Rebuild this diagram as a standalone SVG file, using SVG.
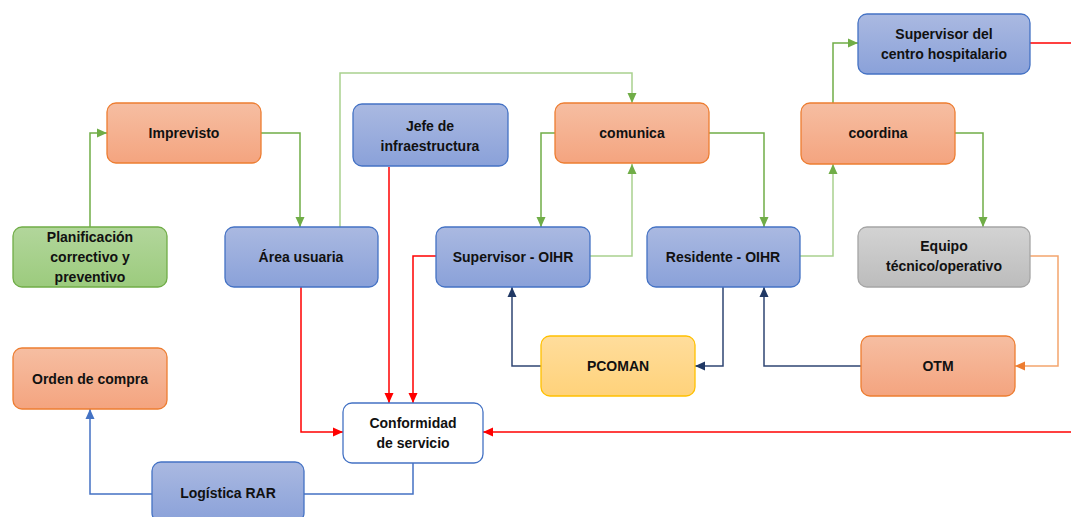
<svg xmlns="http://www.w3.org/2000/svg" width="1071" height="517" viewBox="0 0 1071 517">
<defs>
<linearGradient id="gO" x1="0" y1="0" x2="0" y2="1"><stop offset="0" stop-color="#F6BEA2"/><stop offset="1" stop-color="#F4A47F"/></linearGradient>
<linearGradient id="gB" x1="0" y1="0" x2="0" y2="1"><stop offset="0" stop-color="#AAB9E1"/><stop offset="1" stop-color="#8AA1D9"/></linearGradient>
<linearGradient id="gG" x1="0" y1="0" x2="0" y2="1"><stop offset="0" stop-color="#B2D69B"/><stop offset="1" stop-color="#9CCB7D"/></linearGradient>
<linearGradient id="gS" x1="0" y1="0" x2="0" y2="1"><stop offset="0" stop-color="#D3D3D3"/><stop offset="1" stop-color="#BCBCBC"/></linearGradient>
<linearGradient id="gY" x1="0" y1="0" x2="0" y2="1"><stop offset="0" stop-color="#FFDD9C"/><stop offset="1" stop-color="#FFD27A"/></linearGradient>
<marker id="aG" markerUnits="userSpaceOnUse" markerWidth="10" markerHeight="10" refX="10" refY="5" orient="auto"><path d="M0,0.5 L10,5 L0,9.5 z" fill="#70AD47"/></marker>
<marker id="aR" markerUnits="userSpaceOnUse" markerWidth="10" markerHeight="10" refX="10" refY="5" orient="auto"><path d="M0,0.5 L10,5 L0,9.5 z" fill="#FF0000"/></marker>
<marker id="aB" markerUnits="userSpaceOnUse" markerWidth="10" markerHeight="10" refX="10" refY="5" orient="auto"><path d="M0,0.5 L10,5 L0,9.5 z" fill="#4472C4"/></marker>
<marker id="aN" markerUnits="userSpaceOnUse" markerWidth="10" markerHeight="10" refX="10" refY="5" orient="auto"><path d="M0,0.5 L10,5 L0,9.5 z" fill="#203864"/></marker>
<marker id="aO" markerUnits="userSpaceOnUse" markerWidth="10" markerHeight="10" refX="10" refY="5" orient="auto"><path d="M0,0.5 L10,5 L0,9.5 z" fill="#ED7D31"/></marker>
</defs>
<style>
rect{stroke-width:1.3}
.o{fill:url(#gO);stroke:#ED7D31}
.b{fill:url(#gB);stroke:#4472C4}
.g{fill:url(#gG);stroke:#70AD47}
.s{fill:url(#gS);stroke:#A5A5A5}
.y{fill:url(#gY);stroke:#FFC000}
.w{fill:#FFFFFF;stroke:#4472C4}
text{font-family:"Liberation Sans",Arial,sans-serif;font-weight:bold;font-size:14px;fill:#111111;text-anchor:middle}
.c{fill:none;stroke-width:1.5}
.cg{stroke:#70AD47;marker-end:url(#aG)}
.cgl{stroke:#A9D18E;marker-end:url(#aG)}
.cr{stroke:#FF0000;marker-end:url(#aR)}
.cb{stroke:#4472C4}
.cn{stroke:#2F4673;marker-end:url(#aN)}
.co{stroke:#F4A56E;marker-end:url(#aO)}
</style>
<g id="connectors">
<path class="c cg" d="M90,227 V133 H107"/>
<path class="c cg" d="M260,133 H300 V227"/>
<path class="c cgl" d="M340,227 V73 H632 V103"/>
<path class="c cg" d="M555,133 H541 V227"/>
<path class="c cgl" d="M590,256 H632 V164"/>
<path class="c cg" d="M709,133 H764 V227"/>
<path class="c cgl" d="M800,256 H833 V164"/>
<path class="c cg" d="M833,103 V43 H858"/>
<path class="c cg" d="M955,133 H983 V227"/>
<path class="c" stroke="#FF0000" d="M1030,43 H1071"/>
<path class="c cr" d="M1071,432 H483"/>
<path class="c cr" d="M301,287 V432 H343"/>
<path class="c cr" d="M389,167 V403"/>
<path class="c cr" d="M436,256 H413 V403"/>
<path class="c cb" d="M413,463 V494 H304"/>
<path class="c cb" marker-end="url(#aB)" d="M152,494 H90 V409"/>
<path class="c cn" d="M541,366 H512 V287"/>
<path class="c cn" d="M723,287 V366 H695"/>
<path class="c cn" d="M861,366 H764 V287"/>
<path class="c co" d="M1030,256 H1058 V366 H1015"/>
</g>
<g id="imprevisto"><rect class="o" x="107" y="103" width="154" height="60" rx="9"/><text x="184" y="138">Imprevisto</text></g>
<g id="planificacion"><rect class="g" x="13" y="227" width="154" height="60" rx="9"/><text x="90" y="242">Planificación</text><text x="90" y="262">correctivo y</text><text x="90" y="282">preventivo</text></g>
<g id="area-usuaria"><rect class="b" x="225" y="227" width="153" height="60" rx="9"/><text x="301" y="262">Área usuaria</text></g>
<g id="jefe"><rect class="b" x="353" y="104" width="155" height="62" rx="9"/><text x="430" y="131">Jefe de</text><text x="430" y="151">infraestructura</text></g>
<g id="comunica"><rect class="o" x="555" y="103" width="154" height="60" rx="9"/><text x="632" y="138">comunica</text></g>
<g id="supervisor-oihr"><rect class="b" x="436" y="227" width="154" height="60" rx="9"/><text x="513" y="262">Supervisor - OIHR</text></g>
<g id="residente-oihr"><rect class="b" x="647" y="227" width="153" height="60" rx="9"/><text x="723" y="262">Residente - OIHR</text></g>
<g id="coordina"><rect class="o" x="801" y="103" width="154" height="61" rx="9"/><text x="878" y="138">coordina</text></g>
<g id="supervisor-centro"><rect class="b" x="858" y="14" width="172" height="60" rx="9"/><text x="944" y="39">Supervisor del</text><text x="944" y="59">centro hospitalario</text></g>
<g id="equipo"><rect class="s" x="858" y="227" width="172" height="60" rx="9"/><text x="944" y="251">Equipo</text><text x="944" y="271">técnico/operativo</text></g>
<g id="pcoman"><rect class="y" x="541" y="336" width="154" height="60" rx="9"/><text x="618" y="371">PCOMAN</text></g>
<g id="otm"><rect class="o" x="861" y="336" width="154" height="60" rx="9"/><text x="938" y="371">OTM</text></g>
<g id="orden-compra"><rect class="o" x="13" y="348" width="154" height="61" rx="9"/><text x="90" y="384">Orden de compra</text></g>
<g id="conformidad"><rect class="w" x="343" y="403" width="140" height="60" rx="9"/><text x="413" y="428">Conformidad</text><text x="413" y="448">de servicio</text></g>
<g id="logistica"><rect class="b" x="152" y="462" width="152" height="60" rx="9"/><text x="228" y="498">Logística RAR</text></g>
</svg>
